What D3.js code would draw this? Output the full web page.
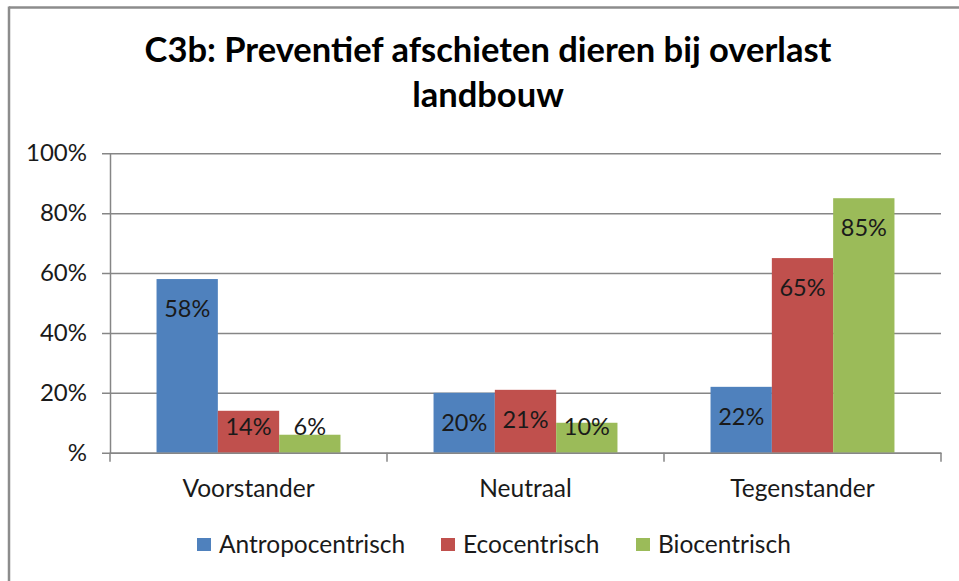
<!DOCTYPE html>
<html>
<head>
<meta charset="utf-8">
<script src="https://cdn.jsdelivr.net/npm/d3@7"></script>
<style>
  html, body { margin: 0; padding: 0; background: #fff; }
  svg { display: block; }
  text { font-family: Lato, "Open Sans", sans-serif; }
</style>
</head>
<body>
<svg id="chart" width="959" height="581"></svg>
<script>
const titleLines = ["C3b: Preventief afschieten dieren bij overlast", "landbouw"];
const categories = ["Voorstander", "Neutraal", "Tegenstander"];
const seriesNames = ["Antropocentrisch", "Ecocentrisch", "Biocentrisch"];
const antropocentrisch = [58, 20, 22];
const ecocentrisch = [14, 21, 65];
const biocentrisch = [6, 10, 85];
const yTicks = [0, 20, 40, 60, 80, 100];
const yTickLabels = ["%", "20%", "40%", "60%", "80%", "100%"];
const colors = ["#4F81BD", "#C0504D", "#9BBB59"];

const seriesValues = [antropocentrisch, ecocentrisch, biocentrisch];
const svg = d3.select("#chart");

// outer frame (top + left visible)
svg.append("line").attr("x1", 9).attr("x2", 959).attr("y1", 7.5).attr("y2", 7.5)
  .attr("stroke", "#8c8c8c").attr("stroke-width", 2.5);
svg.append("line").attr("x1", 9).attr("x2", 9).attr("y1", 6.5).attr("y2", 581)
  .attr("stroke", "#8c8c8c").attr("stroke-width", 2.5);

// title
svg.append("g").selectAll("text").data(titleLines).join("text")
  .attr("x", 488).attr("y", (d, i) => 62 + i * 45)
  .attr("text-anchor", "middle")
  .attr("font-size", 34.5).attr("font-weight", "bold").attr("fill", "#000")
  .text(d => d);

const pLeft = 110, pRight = 941, pTop = 153.3, pBottom = 452.7;
const x = d3.scaleBand().domain(categories).range([pLeft, pRight]).padding(0);
const bw = x.bandwidth();
const gap = bw * 0.168;
const xs = d3.scaleBand().domain(seriesNames).range([gap, bw - gap]).padding(0);
const y = d3.scaleLinear().domain([0, 100]).range([pBottom, pTop]);

// gridlines + y axis
const yAxis = d3.axisLeft(y).tickValues(yTicks)
  .tickSize(-(pRight - pLeft)).tickSizeOuter(0)
  .tickFormat((d, i) => yTickLabels[i]);
const gy = svg.append("g").attr("transform", `translate(${pLeft},0)`).call(yAxis);
gy.select(".domain").attr("stroke", "#868686").attr("stroke-width", 1.5);
gy.selectAll(".tick line").attr("stroke", "#868686").attr("stroke-width", 1.5).attr("x1", -8);
gy.selectAll(".tick text").attr("x", -23).attr("font-size", 24).attr("fill", "#1a1a1a")
  .attr("font-family", "Lato, 'Open Sans', sans-serif");

// bars
const groups = svg.append("g").selectAll("g").data(seriesNames).join("g")
  .attr("fill", (d, i) => colors[i]);
groups.selectAll("rect")
  .data((s, si) => categories.map((c, ci) => ({ c, s, v: seriesValues[si][ci] })))
  .join("rect")
  .attr("x", d => x(d.c) + xs(d.s))
  .attr("width", xs.bandwidth())
  .attr("y", d => y(d.v))
  .attr("height", d => y(0) - y(d.v));

// x axis
const xAxis = d3.axisBottom(x).tickSize(0).tickSizeOuter(0);
const gx = svg.append("g").attr("transform", `translate(0,${pBottom})`).call(xAxis);
gx.select(".domain").attr("stroke", "#868686").attr("stroke-width", 1.5);
gx.selectAll(".tick text").attr("y", 44).attr("dy", 0).attr("font-size", 24.5).attr("fill", "#1a1a1a")
  .attr("font-family", "Lato, 'Open Sans', sans-serif");
// category separators
gx.append("g").selectAll("line").data(categories).join("line")
  .attr("x1", d => x(d) + bw).attr("x2", d => x(d) + bw)
  .attr("y1", 0).attr("y2", 9).attr("stroke", "#868686").attr("stroke-width", 1.5);
gx.append("line").attr("x1", pLeft).attr("x2", pLeft).attr("y1", 0).attr("y2", 9)
  .attr("stroke", "#868686").attr("stroke-width", 1.5);

// data labels
groups.selectAll("text.lbl")
  .data((s, si) => categories.map((c, ci) => ({ c, s, v: seriesValues[si][ci] })))
  .join("text").attr("class", "lbl")
  .attr("x", d => x(d.c) + xs(d.s) + xs.bandwidth() / 2)
  .attr("y", d => Math.min(y(d.v) + 29.5, y(0) - 26))
  .attr("dy", "0.35em")
  .attr("text-anchor", "middle").attr("font-size", 23.5).attr("fill", "#1a1a1a")
  .text(d => d.v + "%");

// legend
const legendX = [197, 441, 636];
const lg = svg.append("g").selectAll("g").data(seriesNames).join("g")
  .attr("transform", (d, i) => `translate(${legendX[i]},538)`);
lg.append("rect").attr("width", 14).attr("height", 13).attr("fill", (d, i) => colors[i]);
lg.append("text").attr("x", 22).attr("y", 14.5).attr("font-size", 24.5).attr("fill", "#1a1a1a")
  .text(d => d);
</script>
</body>
</html>
